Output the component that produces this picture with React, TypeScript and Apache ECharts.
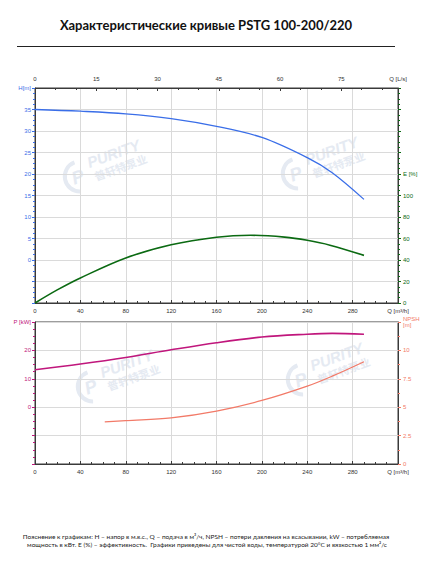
import React, { useEffect, useRef } from "react";
import * as echarts from "echarts";

// ---- data ----
const TITLE = "Характеристические кривые PSTG 100-200/220";
const NOTE1 =
  "Пояснение к графикам: H – напор в м.в.с., Q – подача в м³/ч, NPSH – потери давления на всасывании, kW – потребляемая";
const NOTE2 =
  "мощность в кВт. E (%) – эффективность.  Графики приведены для чистой воды, температурой 20°C и вязкостью 1 мм²/с";

const Q_H = [0, 40, 80, 120, 160, 200, 240, 262, 290];
const H = [35, 34.6, 34.0, 32.9, 31.1, 28.5, 23.8, 20.3, 14.1];
const Q_E = [0, 20, 40, 80, 120, 160, 190, 220, 240, 260, 290];
const E = [0, 12.4, 23.3, 41.9, 54.2, 61.2, 63.0, 61.3, 58.3, 53.8, 44.3];
const Q_P = [0, 40, 80, 120, 160, 200, 240, 262, 290];
const P = [13.2, 15.2, 17.5, 20.2, 22.7, 24.7, 25.7, 26.0, 25.7];
const Q_NPSH = [61.5, 80, 120, 160, 200, 240, 262, 290];
const NPSH = [3.7, 3.82, 4.06, 4.66, 5.59, 6.85, 7.73, 9.0];

const Q_MAX_M3H = 320;
const Q_MAX_LS = Q_MAX_M3H / 3.6;

const zip = (xs: number[], ys: number[]) => xs.map((x, i) => [x, ys[i]]);

const FONT = "Liberation Sans";
const C_H = "#3a6ee8";
const C_E = "#0b6a12";
const C_P = "#c0167c";
const C_N = "#f27a68";
const C_AX = "#3a3a3a";
const C_GRID = "#dadada";
const C_WM = "#e5eaf2";

function watermark(x: number, y: number) {
  return {
    type: "group",
    x,
    y,
    rotation: 0.35,
    silent: true,
    z: -1,
    children: [
      {
        type: "arc",
        shape: { cx: -6, cy: 10, r: 15, startAngle: 1.9, endAngle: 4.7 },
        style: { stroke: C_WM, lineWidth: 4, fill: null },
      },
      {
        type: "text",
        x: -8,
        y: 10,
        style: {
          text: "P",
          font: `italic bold 18px ${FONT}`,
          fill: C_WM,
          align: "center",
          verticalAlign: "middle",
        },
      },
      {
        type: "text",
        x: 6,
        y: 0,
        style: {
          text: "PURITY",
          font: `italic bold 15px ${FONT}`,
          fill: C_WM,
          align: "left",
          verticalAlign: "middle",
        },
      },
      {
        type: "text",
        x: 8,
        y: 15,
        style: {
          text: "普轩特泵业",
          font: `bold 11px "Noto Sans CJK SC"`,
          fill: C_WM,
          align: "left",
          verticalAlign: "middle",
        },
      },
    ],
  };
}

export default function App() {
  const ref = useRef<HTMLDivElement>(null);

  useEffect(() => {
    if (!ref.current) return;
    const chart = echarts.init(ref.current, null, { renderer: "svg" });

    const labelBase = { fontFamily: FONT, fontSize: 6 };

    const qAxisM3h = (gridIndex: number) => ({
      type: "value",
      gridIndex,
      position: "bottom",
      min: 0,
      max: Q_MAX_M3H,
      interval: 40,
      axisLine: { show: true, onZero: false, lineStyle: { color: C_AX } },
      axisTick: { show: true, inside: true, length: 3, lineStyle: { color: C_AX } },
      minorTick: { show: true, splitNumber: 4, length: 2, lineStyle: { color: C_AX } },
      splitLine: { show: true, lineStyle: { color: C_GRID } },
      axisLabel: {
        ...labelBase,
        color: "#333",
        margin: 5,
        showMaxLabel: true,
        formatter: (v: number) => (v >= Q_MAX_M3H ? "Q [m³/h]" : String(v)),
      },
    });

    const lineSeries = (
      name: string,
      xAxisIndex: number,
      yAxisIndex: number,
      xs: number[],
      ys: number[],
      color: string,
      width: number
    ) => ({
      type: "line",
      name,
      xAxisIndex,
      yAxisIndex,
      data: zip(xs, ys),
      smooth: 0.35,
      showSymbol: false,
      lineStyle: { color, width },
      z: 5,
    });

    const option = {
      animation: false,
      backgroundColor: "#fff",
      grid: [
        { left: 35, top: 88, width: 363, height: 215, show: true, borderColor: C_AX, borderWidth: 1, backgroundColor: "transparent" },
        { left: 35, top: 322, width: 363, height: 142, show: true, borderColor: C_AX, borderWidth: 1, backgroundColor: "transparent" },
      ],
      xAxis: [
        {
          type: "value",
          gridIndex: 0,
          position: "top",
          min: 0,
          max: Q_MAX_LS,
          interval: 15,
          axisLine: { show: true, onZero: false, lineStyle: { color: C_AX } },
          axisTick: { show: true, inside: true, length: 3, lineStyle: { color: C_AX } },
          minorTick: { show: true, splitNumber: 3, length: 2, lineStyle: { color: C_AX } },
          splitLine: { show: false },
          axisLabel: {
            ...labelBase,
            color: "#333",
            margin: 6,
            showMaxLabel: true,
            formatter: (v: number) => (v > 80 ? "Q [L/s]" : String(v)),
          },
        },
        qAxisM3h(0),
        qAxisM3h(1),
      ],
      yAxis: [
        {
          type: "value",
          gridIndex: 0,
          position: "left",
          min: -10,
          max: 40,
          interval: 5,
          axisLine: { show: true, onZero: false, lineStyle: { color: C_AX } },
          axisTick: { show: true, length: 3, lineStyle: { color: C_H } },
          minorTick: { show: true, splitNumber: 4, length: 2, lineStyle: { color: C_H } },
          splitLine: { show: true, lineStyle: { color: C_GRID } },
          axisLabel: {
            ...labelBase,
            color: C_H,
            margin: 4,
            showMaxLabel: true,
            formatter: (v: number) => (v >= 40 ? "H[m]" : v < 0 ? "" : String(v)),
          },
        },
        {
          type: "value",
          gridIndex: 0,
          position: "right",
          min: 0,
          max: 200,
          interval: 20,
          axisLine: { show: true, onZero: false, lineStyle: { color: C_AX } },
          axisTick: { show: true, length: 3, lineStyle: { color: C_E } },
          minorTick: { show: true, splitNumber: 4, length: 2, lineStyle: { color: C_E } },
          splitLine: { show: false },
          axisLabel: {
            ...labelBase,
            color: C_E,
            margin: 5,
            formatter: (v: number) => (v === 120 ? "E [%]" : v > 100 ? "" : String(v)),
          },
        },
        {
          type: "value",
          gridIndex: 1,
          position: "left",
          min: -20,
          max: 30,
          interval: 10,
          axisLine: { show: true, onZero: false, lineStyle: { color: C_AX } },
          axisTick: { show: true, length: 3, lineStyle: { color: C_P } },
          minorTick: { show: true, splitNumber: 4, length: 2, lineStyle: { color: C_P } },
          splitLine: { show: true, lineStyle: { color: C_GRID } },
          axisLabel: {
            ...labelBase,
            color: C_P,
            margin: 4,
            showMaxLabel: true,
            formatter: (v: number) => (v >= 30 ? "P [kW]" : v < 0 ? "" : String(v)),
          },
        },
        {
          type: "value",
          gridIndex: 1,
          position: "right",
          min: 0,
          max: 12.5,
          interval: 2.5,
          axisLine: { show: true, onZero: false, lineStyle: { color: C_AX } },
          axisTick: { show: true, length: 3, lineStyle: { color: C_N } },
          minorTick: { show: true, splitNumber: 2, length: 2, lineStyle: { color: C_N } },
          splitLine: { show: false },
          axisLabel: {
            ...labelBase,
            color: C_N,
            margin: 5,
            showMaxLabel: true,
            formatter: (v: number) => (v >= 12.5 ? "NPSH\n[m]" : String(v)),
          },
        },
      ],
      series: [
        lineSeries("H", 1, 0, Q_H, H, C_H, 1.3),
        lineSeries("E", 1, 1, Q_E, E, C_E, 1.6),
        lineSeries("P", 2, 2, Q_P, P, C_P, 1.6),
        lineSeries("NPSH", 2, 3, Q_NPSH, NPSH, C_N, 1.3),
      ],
      graphic: [
        watermark(82, 165),
        watermark(300, 162),
        watermark(95, 375),
        watermark(305, 368),
        {
          type: "text",
          x: 206,
          y: 25,
          style: {
            text: TITLE,
            font: `bold 13px Lato`,
            fill: "#111",
            align: "center",
            verticalAlign: "middle",
          },
        },
        {
          type: "line",
          shape: { x1: 17, y1: 46.5, x2: 395, y2: 46.5 },
          style: { stroke: "#222", lineWidth: 1 },
        },
        {
          type: "text",
          x: 206,
          y: 536,
          style: { text: NOTE1, font: `6.5px Lato`, fill: "#222", align: "center", verticalAlign: "middle" },
        },
        {
          type: "text",
          x: 207,
          y: 544.5,
          style: { text: NOTE2, font: `6.5px Lato`, fill: "#222", align: "center", verticalAlign: "middle" },
        },
      ],
    };

    chart.setOption(option as any);
    return () => chart.dispose();
  }, []);

  return (
    <div
      ref={ref}
      style={{ position: "absolute", left: 0, top: 0, width: 432, height: 567 }}
    />
  );
}
